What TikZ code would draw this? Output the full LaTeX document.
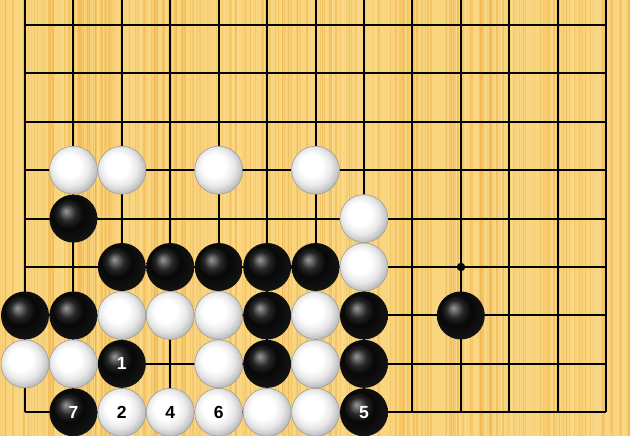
\documentclass[tikz,border=0pt]{standalone}
\usepackage{fontspec}
\setmainfont{Liberation Sans}
\definecolor{wood}{RGB}{250,213,128}
\definecolor{woodd}{RGB}{238,178,72}
\definecolor{woodl}{RGB}{253,226,158}
\pgfdeclareradialshading{blackstone}{\pgfpoint{-8bp}{8bp}}{%
 color(0bp)=(black!40); color(3bp)=(black!55); color(9bp)=(black!85); color(16bp)=(black!97); color(29bp)=(black!92); color(33bp)=(black!72); color(50bp)=(black!72)}
\pgfdeclareradialshading{whitestone}{\pgfpoint{-6bp}{6bp}}{%
 color(0bp)=(white); color(12bp)=(white); color(20bp)=(black!9); color(27bp)=(black!25); color(33bp)=(black!42); color(50bp)=(black!42)}
\tikzset{
 gridline/.style={line width=1.5pt, black},
 bstone/.style={circle, minimum size=48pt, inner sep=0pt, shading=blackstone, text=white, font=\bfseries\fontsize{17.5}{17.5}\selectfont},
 wstone/.style={circle, minimum size=48pt, inner sep=0pt, shading=whitestone, draw=black!38, line width=0.6pt, text=black, font=\bfseries\fontsize{17.5}{17.5}\selectfont},
 hoshi/.style={circle, fill=black, minimum size=8.5pt, inner sep=0pt}
}
\begin{document}
\begin{tikzpicture}[x=1pt,y=-1pt]
\useasboundingbox (0,0) rectangle (630,436);
\fill[wood] (0,0) rectangle (630,436);
\pgfmathsetseed{7}
\foreach \i in {1,...,260}{
  \pgfmathsetmacro\xx{rnd*630}
  \pgfmathsetmacro\ww{0.4+rnd*1.6}
  \pgfmathsetmacro\oo{0.15+rnd*0.45}
  \draw[woodd, line width=\ww pt, opacity=\oo] (\xx,0) -- (\xx,436);
}
\foreach \i in {1,...,60}{
  \pgfmathsetmacro\xx{rnd*630}
  \pgfmathsetmacro\ww{0.5+rnd*1.2}
  \draw[woodl, line width=\ww pt, opacity=0.35] (\xx,0) -- (\xx,436);
}
% grid
\foreach \c in {0,...,12}{
  \pgfmathsetmacro\gx{round(25+48.425*\c)}
  \draw[gridline] (\gx,0) -- (\gx,412);
}
\foreach \r in {0,...,8}{
  \pgfmathsetmacro\gy{round(412.3-48.425*\r)}
  \draw[gridline] (25,\gy) -- (606,\gy);
}
\node[hoshi] (star) at (461,267) {};
% black stones
\foreach \c/\r/\t in {1/4/,2/3/,3/3/,4/3/,5/3/,6/3/,0/2/,1/2/,5/2/,7/2/,9/2/,2/1/1,5/1/,7/1/,1/0/7,7/0/5}
  \node[bstone] (b\c-\r) at ({25+48.425*\c},{412.3-48.425*\r}) {\t};
% white stones
\foreach \c/\r/\t in {1/5/,2/5/,4/5/,6/5/,7/4/,7/3/,2/2/,3/2/,4/2/,6/2/,0/1/,1/1/,4/1/,6/1/,2/0/2,3/0/4,4/0/6,5/0/,6/0/}
  \node[wstone] (w\c-\r) at ({25+48.425*\c},{412.3-48.425*\r}) {\t};
\end{tikzpicture}
\end{document}
